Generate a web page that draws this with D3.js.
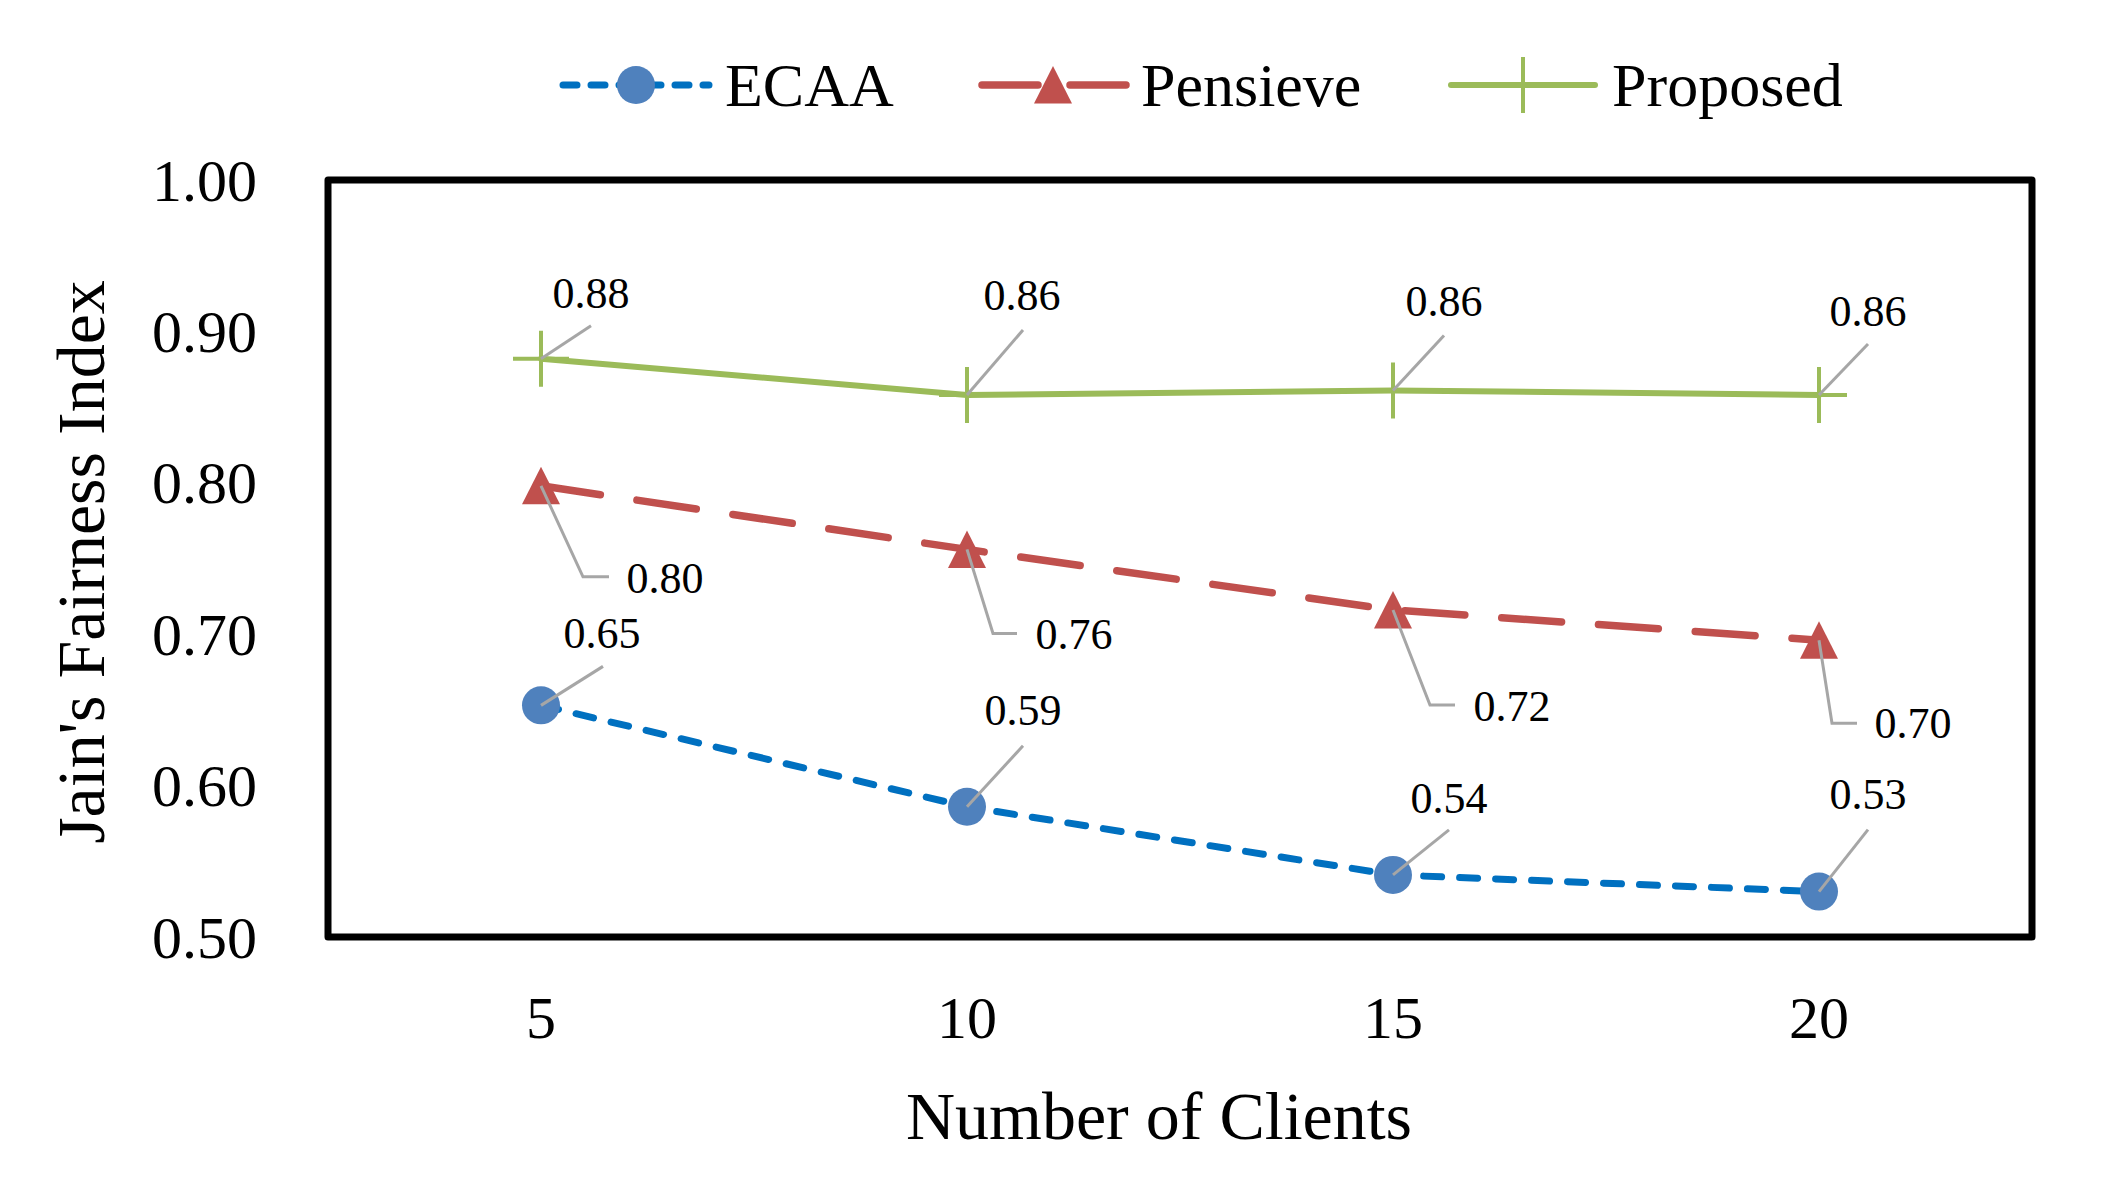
<!DOCTYPE html>
<html>
<head>
<meta charset="utf-8">
<script src="https://cdn.jsdelivr.net/npm/d3@7"></script>
<style>
  html, body { margin: 0; padding: 0; background: #fff; }
  svg { display: block; }
  text { font-family: "Liberation Serif", "Times New Roman", serif; fill: #000; }
</style>
</head>
<body>
<svg id="chart" width="2108" height="1200"></svg>
<script>
// ---- data ----
const categories = ["5", "10", "15", "20"];
const seriesNames = ["ECAA", "Pensieve", "Proposed"];
const ecaa = [0.653, 0.586, 0.541, 0.530];
const pensieve = [0.798, 0.756, 0.716, 0.696];
const proposed = [0.882, 0.858, 0.861, 0.858];
const yTicks = [0.50, 0.60, 0.70, 0.80, 0.90, 1.00];
const xTitle = "Number of Clients";
const yTitle = "Jain's Fairness Index";

// ---- layout / style (not data) ----
const W = 2108, H = 1200;
const plot = { left: 328, right: 2032, top: 180, bottom: 937 };
const colors = {
  ECAA: { line: "#0070C0", marker: "#4F81BD" },
  Pensieve: { line: "#C0504D", marker: "#C0504D" },
  Proposed: { line: "#9BBB59", marker: "#9BBB59" }
};
const leaderColor = "#A6A6A6";
// data label placement (pixel offsets from the point): [labelCenterDx, labelBaselineDy]
const labelPos = {
  ECAA: [[61, -57], [56, -82], [56, -62], [49, -83]],
  Pensieve: [[124, 107], [107, 100], [119, 111], [94, 98]],
  Proposed: [[50, -51], [55, -85], [51, -74], [49, -69]]
};
// leader line path points (offsets from the data point)
const leaderPts = {
  ECAA: [[[62, -39]], [[56, -61]], [[56, -45]], [[49, -62]]],
  Pensieve: [[[42, 91], [68, 91]], [[26, 84], [50, 84]], [[37, 95], [62, 95]], [[13, 83], [38, 83]]],
  Proposed: [[[50, -33]], [[56, -65]], [[51, -55]], [[49, -51]]]
};

const svg = d3.select("#chart");

const x = d3.scaleBand().domain(categories).range([plot.left, plot.right]).padding(0);
const cx = c => x(c) + x.bandwidth() / 2;
const y = d3.scaleLinear().domain([0.5, 1.0]).range([plot.bottom, plot.top]);

// y axis tick labels
const yAxis = d3.axisLeft(y).tickValues(yTicks).tickFormat(d3.format(".2f")).tickSize(0).tickPadding(0);
const gy = svg.append("g").attr("transform", `translate(${257},0)`).call(yAxis);
gy.select(".domain").remove();
gy.selectAll("text")
  .attr("font-family", "Liberation Serif, Times New Roman, serif")
  .attr("font-size", 60).attr("fill", "#000")
  .attr("dy", null).attr("y", 20).attr("x", 0);

// x axis tick labels
const xAxis = d3.axisBottom(x).tickSize(0).tickPadding(0);
const gx = svg.append("g").attr("transform", `translate(0,${1038})`).call(xAxis);
gx.select(".domain").remove();
gx.selectAll("text")
  .attr("font-family", "Liberation Serif, Times New Roman, serif")
  .attr("font-size", 60).attr("fill", "#000")
  .attr("dy", null).attr("y", 0);

// axis titles
svg.append("text")
  .attr("x", 1159).attr("y", 1139)
  .attr("text-anchor", "middle").attr("font-size", 68)
  .text(xTitle);
svg.append("text")
  .attr("transform", `translate(104,562) rotate(-90)`)
  .attr("text-anchor", "middle").attr("font-size", 68)
  .text(yTitle);

// series
const seriesData = { ECAA: ecaa, Pensieve: pensieve, Proposed: proposed };
const dashes = { ECAA: "18,18", Pensieve: "60,37", Proposed: null };
const widths = { ECAA: 7, Pensieve: 7.5, Proposed: 6 };
const line = d3.line().x((d, i) => cx(categories[i])).y(d => y(d));

const gSeries = svg.append("g");
seriesNames.forEach(name => {
  const vals = seriesData[name];
  gSeries.append("path")
    .attr("d", line(vals))
    .attr("fill", "none")
    .attr("stroke", colors[name].line)
    .attr("stroke-width", widths[name])
    .attr("stroke-linecap", "round")
    .attr("stroke-linejoin", "round")
    .attr("stroke-dasharray", dashes[name]);
  vals.forEach((v, i) => {
    drawMarker(gSeries, name, cx(categories[i]), y(v));
  });
});

function drawMarker(g, name, px, py) {
  if (name === "ECAA") {
    g.append("circle").attr("cx", px).attr("cy", py).attr("r", 19).attr("fill", colors[name].marker);
  } else if (name === "Pensieve") {
    g.append("path")
      .attr("d", `M${px},${py - 19} L${px + 19},${py + 18.5} L${px - 19},${py + 18.5} Z`)
      .attr("fill", colors[name].marker);
  } else {
    g.append("path")
      .attr("d", `M${px - 28},${py} L${px + 28},${py} M${px},${py - 28} L${px},${py + 28}`)
      .attr("stroke", colors[name].marker).attr("stroke-width", 4).attr("fill", "none");
  }
}

// leader lines & data labels
const gLab = svg.append("g");
seriesNames.forEach(name => {
  const vals = seriesData[name];
  vals.forEach((v, i) => {
    const px = cx(categories[i]), py = y(v);
    const pts = [[px, py]].concat(leaderPts[name][i].map(o => [px + o[0], py + o[1]]));
    gLab.append("path")
      .attr("d", d3.line()(pts))
      .attr("fill", "none").attr("stroke", leaderColor).attr("stroke-width", 3);
    gLab.append("text")
      .attr("x", px + labelPos[name][i][0]).attr("y", py + labelPos[name][i][1])
      .attr("text-anchor", "middle").attr("font-size", 44)
      .text(d3.format(".2f")(v));
  });
});

// plot frame
svg.append("rect")
  .attr("x", plot.left).attr("y", plot.top)
  .attr("width", plot.right - plot.left).attr("height", plot.bottom - plot.top)
  .attr("fill", "none").attr("stroke", "#000").attr("stroke-width", 7)
  .attr("stroke-linejoin", "round");

// legend
const legendY = 85;
const legendItems = [
  { name: "ECAA", x0: 563, x1: 709, mx: 636, tx: 725 },
  { name: "Pensieve", x0: 982, x1: 1126, mx: 1053, tx: 1141 },
  { name: "Proposed", x0: 1451, x1: 1595, mx: 1523, tx: 1612 }
];
const gLeg = svg.append("g");
legendItems.forEach(it => {
  gLeg.append("line")
    .attr("x1", it.x0).attr("x2", it.x1).attr("y1", legendY).attr("y2", legendY)
    .attr("stroke", colors[it.name].line).attr("stroke-width", widths[it.name])
    .attr("stroke-linecap", "round")
    .attr("stroke-dasharray", it.name === "ECAA" ? "14,14" : (it.name === "Pensieve" ? "56,32" : null));
  drawMarker(gLeg, it.name, it.mx, legendY);
  gLeg.append("text")
    .attr("x", it.tx).attr("y", legendY + 21)
    .attr("font-size", 62)
    .text(it.name);
});
</script>
</body>
</html>
